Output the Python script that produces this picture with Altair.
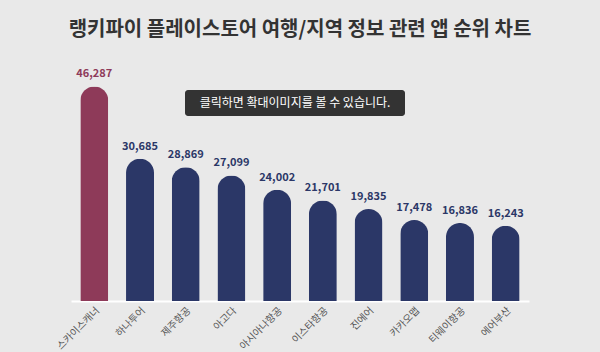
import altair as alt
import pandas as pd

apps = ["스카이스캐너", "하나투어", "제주항공", "아고다", "아시아나항공",
        "이스타항공", "진에어", "카카오맵", "티웨이항공", "에어부산"]
scores = [46287, 30685, 28869, 27099, 24002, 21701, 19835, 17478, 16836, 16243]
highlight = [True] + [False] * 9

df = pd.DataFrame({"app": apps, "score": scores, "top": highlight})
df["label"] = df["score"].map(lambda v: f"{v:,}")

MAROON = "#8e3a59"
NAVY = "#2b3767"
color = alt.Color("top:N", scale=alt.Scale(domain=[True, False], range=[MAROON, NAVY]), legend=None)

x = alt.X("app:N", sort=apps, title=None,
          scale=alt.Scale(paddingInner=0.38, paddingOuter=0.2),
          axis=alt.Axis(labelAngle=-45, labelFontSize=10, labelColor="#555555",
                        labelFont="Noto Sans CJK KR", ticks=False, domainColor="#ffffff",
                        domainWidth=2, labelPadding=4))
y = alt.Y("score:Q", scale=alt.Scale(domain=[0, 52000], nice=False), axis=None)

bars = alt.Chart(df).mark_bar(size=28, cornerRadiusTopLeft=14, cornerRadiusTopRight=14).encode(
    x=x, y=y, color=color)

texts = alt.Chart(df).mark_text(dy=-12, fontSize=11, fontWeight="bold",
                                font="Noto Sans CJK KR").encode(
    x=alt.X("app:N", sort=apps), y="score:Q", text="label:N", color=color)

box = alt.Chart(df.head(1)).mark_rect(color="#333333", cornerRadius=3).encode(
    x=alt.value(114), x2=alt.value(334), y=alt.value(30), y2=alt.value(56))
boxtext = alt.Chart(df.head(1)).mark_text(color="#ffffff", fontSize=12,
                                          font="Noto Sans CJK KR").encode(
    x=alt.value(224), y=alt.value(43), text=alt.value("클릭하면 확대이미지를 볼 수 있습니다."))

chart = alt.layer(bars, texts, box, boxtext).properties(
    width=458, height=241,
    autosize=alt.AutoSizeParams(type="none"),
    padding={"left": 71, "top": 60, "right": 71, "bottom": 51},
    background="#e9e9e9",
    title=alt.TitleParams("랭키파이 플레이스토어 여행/지역 정보 관련 앱 순위 차트",
                          fontSize=20, fontWeight="bold", color="#333333",
                          font="Noto Sans CJK KR", anchor="middle", offset=20),
).configure_view(stroke=None)

chart.save("out.html", embed_options={"renderer": "svg", "actions": False})
